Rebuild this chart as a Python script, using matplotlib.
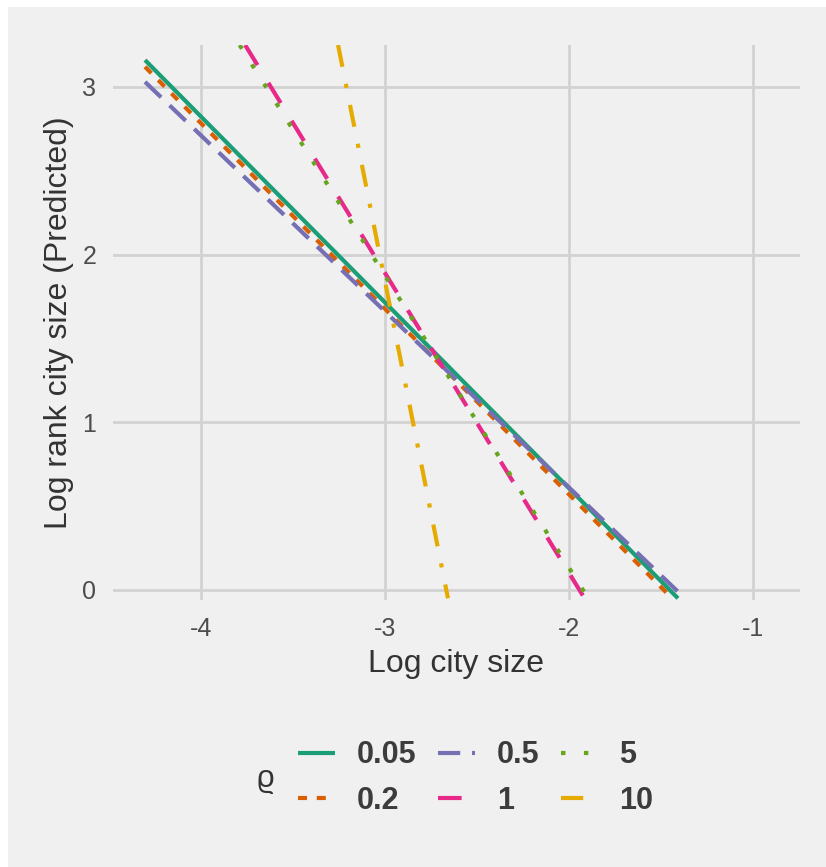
import numpy as np
import matplotlib.pyplot as plt
from matplotlib.patches import Rectangle

plt.rcParams['font.family'] = ['Liberation Sans', 'DejaVu Sans']
plt.rcParams['lines.scale_dashes'] = False

# predicted log-rank lines, one per rho
rho_labels = ['0.05', '0.2', '0.5', '1', '5', '10']
x_start = [-4.304, -4.304, -4.304, -3.76, -3.79, -3.255]
y_start = [3.16, 3.12, 3.03, 3.25, 3.25, 3.25]
x_end = [-1.408, -1.44, -1.38, -1.91, -1.89, -2.658]
y_end = [-0.05, -0.05, -0.04, -0.06, -0.06, -0.05]

colors = ['#1B9E77', '#D95F02', '#7570B3', '#E7298A', '#66A61E', '#E6AB02']
dashes = [None, (6.5, 7), (16, 8.5), (17, 15), (3.2, 13.3), (16, 12.5, 3, 12.5)]

x_ticks = [-4, -3, -2, -1]
y_ticks = [0, 1, 2, 3]

bg = '#F0F0F0'
grid_col = '#D2D2D2'

fig = plt.figure(figsize=(8.26, 8.67), dpi=100, facecolor=bg)
# thin white border on left and top
fig.patches.append(Rectangle((0, 0), 8 / 826, 1, transform=fig.transFigure,
                             facecolor='white', edgecolor='none', zorder=0))
fig.patches.append(Rectangle((0, 1 - 7 / 867), 1, 7 / 867, transform=fig.transFigure,
                             facecolor='white', edgecolor='none', zorder=0))

ax = fig.add_axes([113 / 826, 1 - 600 / 867, (800 - 113) / 826, (600 - 45) / 867])
ax.set_facecolor(bg)

for i in range(len(rho_labels)):
    line, = ax.plot([x_start[i], x_end[i]], [y_start[i], y_end[i]],
                    color=colors[i], lw=3.0, label=rho_labels[i],
                    solid_capstyle='butt', dash_capstyle='butt')
    if dashes[i] is not None:
        line.set_dashes(dashes[i])

ax.set_xlim(-4.478, -0.745)
ax.set_ylim(-0.06, 3.25)
ax.set_xticks(x_ticks)
ax.set_xticklabels([str(v) for v in x_ticks])
ax.set_yticks(y_ticks)
ax.grid(True, color=grid_col, lw=2.0)
ax.set_axisbelow(True)
for s in ax.spines.values():
    s.set_visible(False)
ax.tick_params(length=0, labelsize=18, labelcolor='#4D4D4D', pad=12)

ax.set_xlabel('Log city size', fontsize=23, color='#333333', labelpad=6)
ax.set_ylabel('Log rank city size (Predicted)', fontsize=23, color='#333333', labelpad=6)

leg = fig.legend(loc='center', bbox_to_anchor=(476 / 826, 1 - 778 / 867), ncol=3,
                 frameon=False, handlelength=1.2, handletextpad=0.72,
                 columnspacing=0.7, labelspacing=0.5,
                 prop={'weight': 'bold', 'size': 22})
for t in leg.get_texts():
    t.set_color('#3C3C3C')
fig.text(265 / 826, 1 - 779 / 867, '\u03f1', fontsize=22, color='#333333',
         ha='center', va='center')

fig.savefig('out.png', dpi=100, facecolor=bg)
